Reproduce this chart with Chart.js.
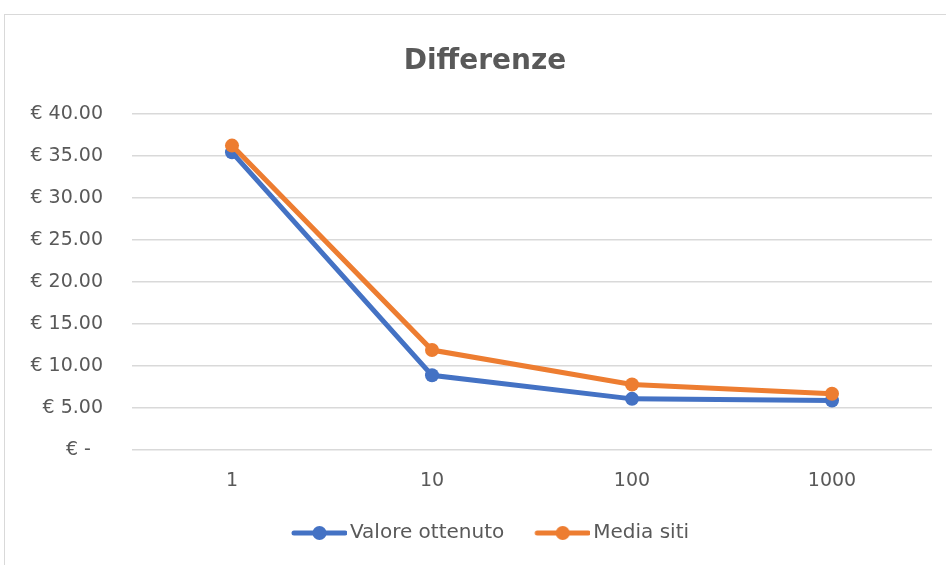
<!DOCTYPE html>
<html>
<head>
<meta charset="utf-8">
<script src="https://cdn.jsdelivr.net/npm/chart.js@4.4.1/dist/chart.umd.min.js"></script>
<style>
  html, body { margin: 0; padding: 0; background: #ffffff; overflow: hidden; width: 946px; height: 565px; }
  #frame { position: absolute; left: 4px; top: 14px; width: 960px; height: 568px; border: 1px solid #d9d9d9; background: #fff; }
  #chart { display: block; }
</style>
</head>
<body>
<div id="frame"><canvas id="chart" width="960" height="568"></canvas></div>
<script>
// Quantities on the x axis
const categories = ['1', '10', '100', '1000'];
// Price differences in euro
const valoreOttenuto = [35.4, 8.9, 6.1, 5.9];
const mediaSiti = [36.2, 11.9, 7.8, 6.7];
// Y axis ticks
const yTicks = [0, 5, 10, 15, 20, 25, 30, 35, 40];

const BLUE = '#4472C4';
const ORANGE = '#ED7D31';
const TEXT = '#595959';
const GRID = '#D9D9D9';
const FONT = 'DejaVu Sans';

// Legend marker: a short thick line with a dot in its middle
function legendMarker(color) {
  const c = document.createElement('canvas');
  c.width = 73; c.height = 18;
  const g = c.getContext('2d');
  g.strokeStyle = color;
  g.lineWidth = 5;
  g.lineCap = 'round';
  g.beginPath();
  g.moveTo(20, 9); g.lineTo(71, 9);
  g.stroke();
  g.fillStyle = color;
  g.beginPath();
  g.arc(45.5, 9, 7, 0, Math.PI * 2);
  g.fill();
  return c;
}

const markers = [legendMarker(BLUE), legendMarker(ORANGE)];

new Chart(document.getElementById('chart'), {
  type: 'line',
  data: {
    labels: categories,
    datasets: [
      {
        label: 'Valore ottenuto',
        data: valoreOttenuto,
        borderColor: BLUE,
        backgroundColor: BLUE,
        borderWidth: 5,
        pointRadius: 7,
        pointHoverRadius: 7,
        pointBorderWidth: 0,
        pointStyle: 'circle',
        tension: 0,
        order: 2
      },
      {
        label: 'Media siti',
        data: mediaSiti,
        borderColor: ORANGE,
        backgroundColor: ORANGE,
        borderWidth: 5,
        pointRadius: 7,
        pointHoverRadius: 7,
        pointBorderWidth: 0,
        pointStyle: 'circle',
        tension: 0,
        order: 1
      }
    ]
  },
  options: {
    responsive: false,
    animation: false,
    color: TEXT,
    layout: { padding: { left: 0, right: 0, top: 0, bottom: 30 } },
    plugins: {
      title: {
        display: true,
        text: 'Differenze',
        color: TEXT,
        font: { family: FONT, size: 28, weight: 'bold' },
        padding: { top: 30, bottom: 35 }
      },
      legend: {
        position: 'bottom',
        labels: {
          color: TEXT,
          font: { family: FONT, size: 20 },
          usePointStyle: true,
          pointStyleWidth: 59,
          padding: 20,
          generateLabels: (chart) => chart.data.datasets.map((ds, i) => ({
            text: ds.label,
            pointStyle: markers[i],
            fillStyle: ds.borderColor,
            strokeStyle: ds.borderColor,
            lineWidth: 0,
            fontColor: TEXT,
            datasetIndex: i,
            hidden: false
          }))
        }
      },
      tooltip: { enabled: false }
    },
    scales: {
      x: {
        offset: true,
        grid: { display: false, drawTicks: false },
        border: { display: false },
        ticks: { color: TEXT, font: { family: FONT, size: 19 }, padding: 19 },
        afterFit: (scale) => { scale.height -= 8; }
      },
      y: {
        min: 0,
        max: 40,
        afterBuildTicks: (scale) => { scale.ticks = yTicks.map(v => ({ value: v })); },
        grid: { color: GRID, lineWidth: 1.5, drawTicks: false },
        border: { display: false },
        ticks: {
          color: TEXT,
          font: { family: FONT, size: 19 },
          padding: 29,
          callback: (v) => v === 0 ? '€ -\u00a0\u00a0' : '€ ' + v.toFixed(2)
        },
        afterFit: (scale) => { scale.width = 127; }
      },
      // empty margin on the right of the plot
      yRight: {
        position: 'right',
        display: true,
        grid: { display: false, drawOnChartArea: false, drawTicks: false },
        border: { display: false },
        ticks: { display: false },
        afterFit: (scale) => { scale.width = 33; }
      }
    }
  }
});
</script>
</body>
</html>
